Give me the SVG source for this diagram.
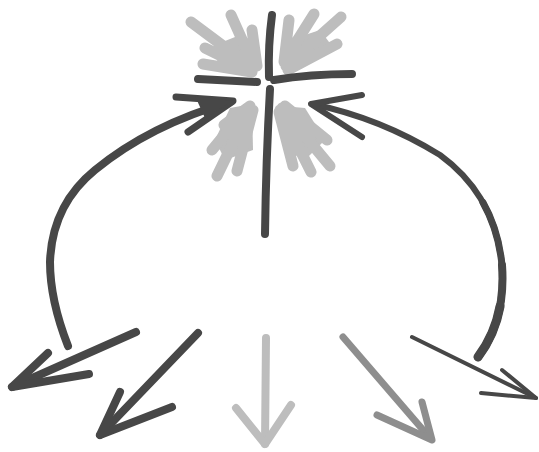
<svg xmlns="http://www.w3.org/2000/svg" width="539" height="452" viewBox="0 0 539 452">
<style>
.s{fill:none;stroke-linecap:round;stroke-linejoin:round}
.dk{stroke:#474747}
.md{stroke:#8e8e8e}
.lt{stroke:#bdbdbd}
.lf{fill:#bdbdbd}
</style>
<rect width="539" height="452" fill="#ffffff"/>
<g id="hands">
  <g id="hand-ul">
    <polygon class="lf" points="215,45 240,35 256,62 255,72 218,66"/>
    <path class="s lt" stroke-width="11" d="M191,22 L250,66 M231,15 L253,64 M252,30 L257,66 M205,48 L250,70 M203,64 L252,72"/>
  </g>
  <g id="hand-ur">
    <polygon class="lf" points="290,40 320,30 335,50 300,68 284,68"/>
    <path class="s lt" stroke-width="11" d="M341,17 L286,66 M314,14 L285,60 M289,20 L284,62 M337,44 L288,70"/>
  </g>
  <g id="hand-ll">
    <polygon class="lf" points="230,108 252,104 253,150 225,160 215,140"/>
    <path class="s lt" stroke-width="11" d="M217,176 L250,108 M237,171 L253,110 M212,150 L245,110 M224,125 L250,106"/>
  </g>
  <g id="hand-lr">
    <polygon class="lf" points="282,106 305,108 325,140 305,160 285,150"/>
    <path class="s lt" stroke-width="11" d="M330,166 L282,108 M311,172 L280,110 M293,166 L279,112 M327,140 L285,106"/>
  </g>
</g>
<g id="cross">
  <path class="s dk" stroke-width="8" d="M272,15 Q268,45 269,77"/>
  <path class="s dk" stroke-width="8" d="M270,89 Q266,160 265,234"/>
  <path class="s dk" stroke-width="8" d="M198,79 L257,82"/>
  <path class="s dk" stroke-width="8" d="M274,80 Q310,74 352,74"/>
</g>
<g id="connectors">
  <g id="arc-left">
    <path class="s dk" stroke-width="8" d="M68,346 Q50,300 50,262 Q52,205 95,170 Q150,125 230,102"/>
    <path class="s dk" stroke-width="7" d="M176,97 L233,101 L188,132"/>
    <polygon fill="#474747" points="233,101 195,96 205,118"/>
  </g>
  <g id="arc-right">
    <path class="s dk" stroke-width="6" d="M312,104 Q380,118 440,155 Q495,195 502,265 Q506,320 478,357"/>
    <path class="s dk" stroke-width="7" d="M483,202.5 Q498.5,230 502,265 Q506,320 478,357"/>
    <path class="s dk" stroke-width="8" d="M502,265 Q506,320 478,357"/>
    <path class="s dk" stroke-width="9" d="M500.1,306.1 Q494.8,334.8 478,357"/>
    <path class="s dk" stroke-width="6" d="M362,95 L311,104 L362,137"/>
  </g>
  <g id="out-1">
    <path class="s dk" stroke-width="8" d="M136,332 L12,387"/>
    <path class="s dk" stroke-width="8" d="M48,353 L12,387 L89,374"/>
  </g>
  <g id="out-2">
    <path class="s dk" stroke-width="8" d="M198,333 L100,435"/>
    <path class="s dk" stroke-width="8" d="M120,392 L100,435 L172,407"/>
  </g>
  <g id="out-3">
    <path class="s lt" stroke-width="8" d="M266,338 L265,444"/>
    <path class="s lt" stroke-width="8" d="M236,408 L265,444 L291,405"/>
  </g>
  <g id="out-4">
    <path class="s md" stroke-width="7" d="M343,337 L430,438"/>
    <path class="s md" stroke-width="7" d="M422,402 L432,440 L377,415"/>
  </g>
  <g id="out-5">
    <path class="s dk" stroke-width="4" d="M412,337 L536,398"/>
    <path class="s dk" stroke-width="4" d="M502,370 L536,398 L481,393"/>
  </g>
</g>
</svg>
